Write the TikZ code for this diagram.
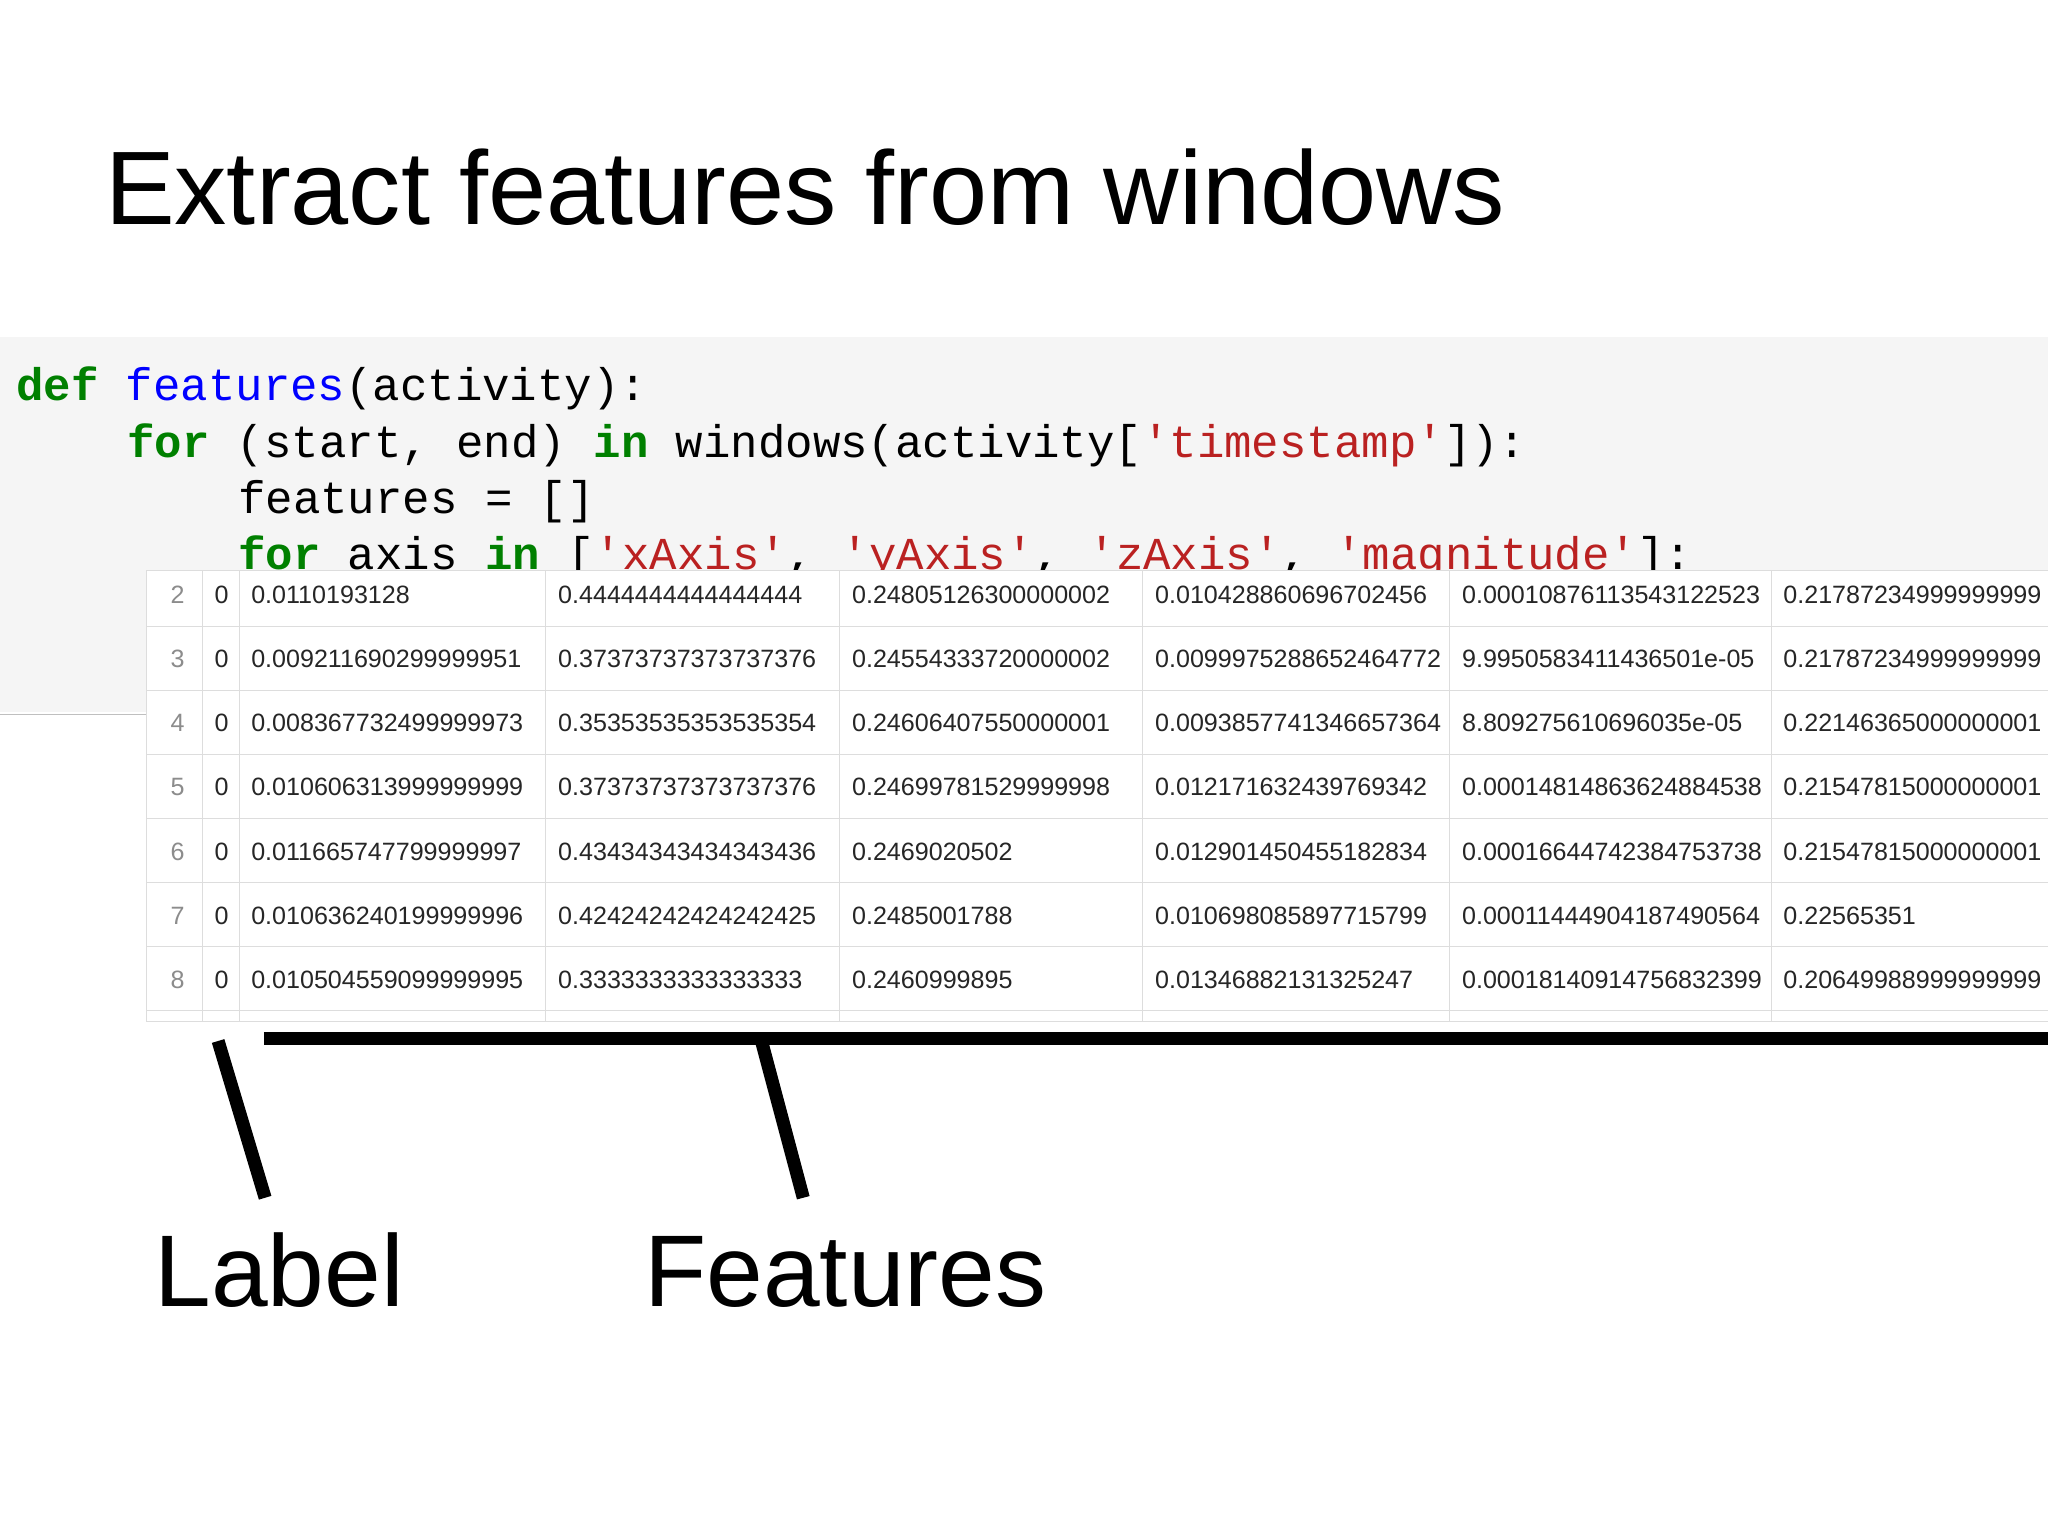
\documentclass[tikz,border=0pt]{standalone}
\usepackage{fontspec}
\setmainfont{Liberation Sans}
\newfontfamily\codefont{Liberation Mono}
\definecolor{kw}{HTML}{008000}
\definecolor{fn}{HTML}{0000FF}
\definecolor{st}{HTML}{BA2121}
\definecolor{codebg}{HTML}{F5F5F5}
\definecolor{grid}{HTML}{DDDDDD}
\begin{document}
\begin{tikzpicture}[x=0.5pt,y=-0.5pt,
  code/.style={anchor=base west,inner sep=0,font=\codefont\fontsize{17.5}{20}\selectfont},
  cell/.style={anchor=base west,inner sep=0,font=\fontsize{9.6}{11}\selectfont,text=black!85},
  idx/.style={anchor=base,inner sep=0,font=\fontsize{9.6}{11}\selectfont,text=black!45},
  big/.style={anchor=base west,inner sep=0,font=\fontsize{39}{44}\selectfont},
  bar/.style={line width=5pt}]
\useasboundingbox (0,0) rectangle (1568,1175);
\fill[white] (0,0) rectangle (1568,1175);
\node[big,font=\fontsize{40}{44}\selectfont] (title) at (80,172) {Extract features from windows};
\fill[codebg] (0,258) rectangle (1568,545);
\draw[black!25] (0,547) -- (112,547);
\node[code] (c1) at (12,307) {\textbf{\color{kw}def} {\color{fn}features}(activity):};
\node[code] (c2) at (97,350) {\textbf{\color{kw}for} (start, end) \textbf{\color{kw}in} windows(activity[{\color{st}'timestamp'}]):};
\node[code] (c3) at (182,393) {features = []};
\node[code] (c4) at (182,436) {\textbf{\color{kw}for} axis \textbf{\color{kw}in} [{\color{st}'xAxis'}, {\color{st}'yAxis'}, {\color{st}'zAxis'}, {\color{st}'magnitude'}]:};
\fill[white] (112,437) rectangle (1568,782);
\draw[grid] (112,437) rectangle (1572,782);
\foreach \x in {155,183,418,643,875,1110,1356} \draw[grid] (\x,437) -- (\x,782);
\foreach \y in {480,529,578,627,676,725,774} \draw[grid] (112,\y) -- (1568,\y);
\foreach \r/\i/\a/\b/\c/\d/\e/\f [count=\k] in {
 455/2/0.0110193128/0.4444444444444444/0.24805126300000002/0.010428860696702456/0.00010876113543122523/0.21787234999999999,
 504/3/0.009211690299999951/0.37373737373737376/0.24554333720000002/0.0099975288652464772/9.9950583411436501e-05/0.21787234999999999,
 553/4/0.008367732499999973/0.35353535353535354/0.24606407550000001/0.0093857741346657364/8.809275610696035e-05/0.22146365000000001,
 602/5/0.010606313999999999/0.37373737373737376/0.24699781529999998/0.012171632439769342/0.00014814863624884538/0.21547815000000001,
 652/6/0.011665747799999997/0.43434343434343436/0.2469020502/0.012901450455182834/0.00016644742384753738/0.21547815000000001,
 701/7/0.010636240199999996/0.42424242424242425/0.2485001788/0.010698085897715799/0.00011444904187490564/0.22565351,
 750/8/0.010504559099999995/0.3333333333333333/0.2460999895/0.01346882131325247/0.00018140914756832399/0.20649988999999999}{
  \node[idx] (i\k) at (136,\r+7) {\i};
  \node[cell] (l\k) at (164,\r+7) {0};
  \node[cell] (a\k) at (192,\r+7) {\a};
  \node[cell] (b\k) at (427,\r+7) {\b};
  \node[cell] (p\k) at (652,\r+7) {\c};
  \node[cell] (d\k) at (884,\r+7) {\d};
  \node[cell] (e\k) at (1119,\r+7) {\e};
  \node[cell] (f\k) at (1365,\r+7) {\f};
}
\coordinate (h1) at (202,795);
\coordinate (h2) at (1568,795);
\draw[bar] (h1) -- (h2);
\node[big] (lab) at (118,1000) {Label};
\node[big] (feat) at (493,1000) {Features};
\coordinate (la) at (167,797);
\coordinate (lb) at (203,917);
\coordinate (fa) at (583,797);
\coordinate (fb) at (615,917);
\draw[bar] (la) -- (lb);
\draw[bar] (fa) -- (fb);
\end{tikzpicture}
\end{document}
